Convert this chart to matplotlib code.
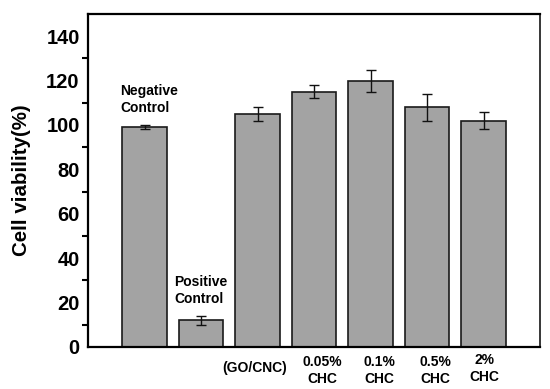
import matplotlib
matplotlib.use("Agg")
import matplotlib.pyplot as plt

plt.rcParams['font.family'] = ['Liberation Sans', 'DejaVu Sans']
plt.rcParams['font.weight'] = 'bold'

positions = [1, 2, 3, 4, 5, 6, 7]
values = [99, 12, 105, 115, 120, 108, 102]
errors = [1, 2, 3, 3, 5, 6, 4]
tick_labels = ["", "", "(GO/CNC)", "0.05%\nCHC", "0.1%\nCHC", "0.5%\nCHC", "2%\nCHC"]
y_labels = [0, 20, 40, 60, 80, 100, 120, 140]

fig = plt.figure(figsize=(5.5, 3.89), dpi=100)
ax = fig.add_axes([88/550, 1 - 347/389, 452/550, 333/389])

ax.bar(positions, values, width=0.79, color='#a3a3a3', edgecolor='#1a1a1a', linewidth=1.2)
ax.errorbar(positions, values, yerr=errors, fmt='none', ecolor='#111111',
            elinewidth=1.0, capsize=3.5, capthick=1.0)

ax.set_xlim(0, 8)
ax.set_ylim(0, 150)

# labels at even values, small tick marks at odd tens
ax.set_yticks(y_labels)
ax.set_yticklabels([str(v) for v in y_labels], fontsize=14.5, fontweight='bold')
ax.tick_params(axis='y', which='major', length=0, pad=6)
ax.set_yticks([10, 30, 50, 70, 90, 110, 130], minor=True)
ax.tick_params(axis='y', which='minor', length=4, width=1.5, direction='out')

ax.set_xticks([])
for x, lab in zip(positions, tick_labels):
    if not lab:
        continue
    if lab == "(GO/CNC)":
        ax.text(x - 0.05, -6.2, lab, ha='center', va='top', fontsize=10,
                fontweight='bold', clip_on=False)
    elif lab.startswith("2%"):
        ax.text(x + 0.02, -2.6, lab, ha='center', va='top', fontsize=10,
                fontweight='bold', clip_on=False, linespacing=1.25)
    else:
        ax.text(x + 0.15, -3.6, lab, ha='center', va='top', fontsize=10,
                fontweight='bold', clip_on=False, linespacing=1.25)

ax.text(0.57, 118.5, "Negative\nControl", ha='left', va='top', fontsize=10,
        fontweight='bold', linespacing=1.25)
ax.text(1.52, 32.5, "Positive\nControl", ha='left', va='top', fontsize=10,
        fontweight='bold', linespacing=1.25)

ax.set_ylabel("Cell viability(%)", fontsize=14.8, fontweight='bold', labelpad=11)

for side in ['left', 'bottom', 'top']:
    ax.spines[side].set_linewidth(1.6)
ax.spines['right'].set_linewidth(1.1)

fig.savefig("out.png", dpi=100)
